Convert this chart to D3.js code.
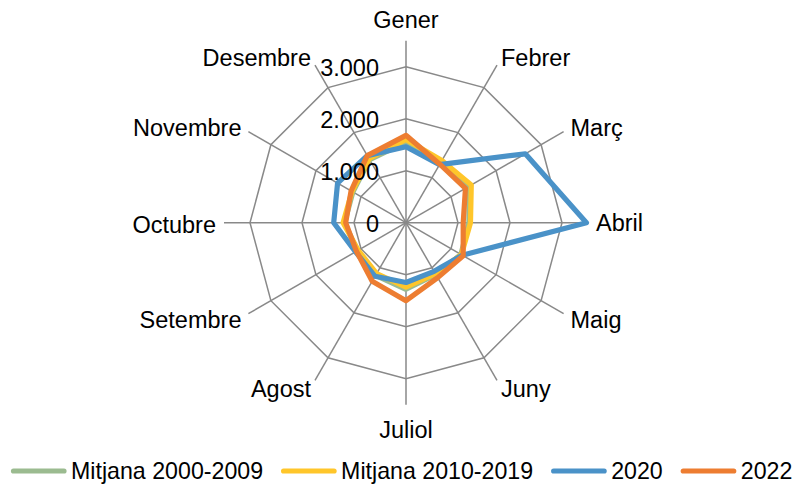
<!DOCTYPE html>
<html>
<head>
<meta charset="utf-8">
<script src="https://cdn.jsdelivr.net/npm/d3@7"></script>
<style>
  html, body { margin: 0; padding: 0; background: #fff; }
  svg { display: block; font-family: "Liberation Sans", Arial, sans-serif; }
</style>
</head>
<body>
<svg id="chart" width="808" height="488"></svg>
<script>
// Monthly values per series
const months = ["Gener", "Febrer", "Març", "Abril", "Maig", "Juny",
                "Juliol", "Agost", "Setembre", "Octubre", "Novembre", "Desembre"];
const seriesNames = ["Mitjana 2000-2009", "Mitjana 2010-2019", "2020", "2022"];
const mitjana2000 = [1550, 1320, 1400, 1210, 1220, 1150, 1280, 1170, 1080, 1180, 1180, 1400];
const mitjana2010 = [1600, 1380, 1450, 1240, 1230, 1130, 1240, 1130, 1060, 1210, 1200, 1420];
const any2020     = [1460, 1290, 2650, 3470, 1250, 1080, 1150, 1190, 1120, 1390, 1520, 1490];
const any2022     = [1680, 1300, 1320, 1100, 1270, 1220, 1500, 1300, 1100, 1160, 1220, 1490];
const tickValues  = [0, 1000, 2000, 3000];
const axisMax = 3500;

const colors = ["#9bbb90", "#ffc62a", "#4a92c8", "#ed7d31"];
const seriesValues = [mitjana2000, mitjana2010, any2020, any2022];

const svg = d3.select("#chart");
const cx = 406, cy = 222.7;
const r = d3.scaleLinear().domain([0, axisMax]).range([0, 182]);
const angle = d3.scalePoint().domain(months).range([0, 2 * Math.PI * (11 / 12)]);

const locale = d3.formatLocale({ decimal: ",", thousands: ".", grouping: [3], currency: ["", " €"] });
const fmt = locale.format(",");

const g = svg.append("g").attr("transform", `translate(${cx},${cy})`);

const pt = (a, rad) => [Math.sin(a) * rad, -Math.cos(a) * rad];

// Concentric grid polygons
const ringLine = d3.lineRadial().angle(d => angle(d)).curve(d3.curveLinearClosed);
g.selectAll("path.ring")
  .data(tickValues.filter(v => v > 0))
  .join("path")
  .attr("class", "ring")
  .attr("d", v => ringLine.radius(r(v))(months))
  .attr("fill", "none")
  .attr("stroke", "#898989")
  .attr("stroke-width", 1.5);

// Spokes
g.selectAll("line.spoke")
  .data(months)
  .join("line")
  .attr("class", "spoke")
  .attr("x1", 0).attr("y1", 0)
  .attr("x2", m => pt(angle(m), r(axisMax))[0])
  .attr("y2", m => pt(angle(m), r(axisMax))[1])
  .attr("stroke", "#898989")
  .attr("stroke-width", 1.5);

// Series lines
const seriesLine = d3.lineRadial()
  .angle((d, i) => angle(months[i]))
  .radius(d => r(d))
  .curve(d3.curveLinearClosed);

g.selectAll("path.series")
  .data(seriesValues)
  .join("path")
  .attr("class", "series")
  .attr("d", d => seriesLine(d))
  .attr("fill", "none")
  .attr("stroke", (d, i) => colors[i])
  .attr("stroke-width", 5.2)
  .attr("stroke-linejoin", "round");

// Value axis labels
g.selectAll("text.tick")
  .data(tickValues)
  .join("text")
  .attr("class", "tick")
  .attr("x", -27)
  .attr("y", v => -r(v) + 1)
  .attr("text-anchor", "end")
  .attr("dominant-baseline", "central")
  .attr("font-size", 23.5)
  .attr("fill", "#000")
  .text(v => fmt(v));

// Month labels around the outside
g.selectAll("text.month")
  .data(months)
  .join("text")
  .attr("class", "month")
  .each(function (m) {
    const a = angle(m);
    const s = Math.sin(a), c = Math.cos(a);
    const [ex, ey] = pt(a, r(axisMax));
    const t = d3.select(this);
    if (Math.abs(s) < 0.1) {
      t.attr("x", ex).attr("y", ey + (c > 0 ? -21 : 25)).attr("text-anchor", "middle");
    } else {
      t.attr("x", ex + s * 8).attr("y", ey - c * 8 + (c < 0 ? 2 : 0))
       .attr("text-anchor", s > 0 ? "start" : "end");
    }
  })
  .attr("dominant-baseline", "central")
  .attr("font-size", 23.5)
  .attr("fill", "#000")
  .text(m => m);

// Legend along the bottom
const legend = svg.append("g").attr("transform", "translate(0,471)");
let lx = 11;
seriesNames.forEach((name, i) => {
  legend.append("line")
    .attr("x1", lx + 2.5).attr("x2", lx + 53)
    .attr("y1", 0).attr("y2", 0)
    .attr("stroke", colors[i])
    .attr("stroke-width", 5.2)
    .attr("stroke-linecap", "round");
  const txt = legend.append("text")
    .attr("x", lx + 60)
    .attr("y", 0)
    .attr("dominant-baseline", "central")
    .attr("font-size", 23.2)
    .attr("fill", "#000")
    .text(name);
  lx = lx + 60 + txt.node().getComputedTextLength() + 18;
});
</script>
</body>
</html>
